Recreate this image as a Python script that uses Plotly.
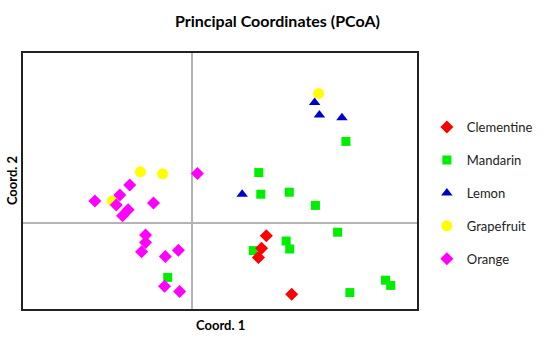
import plotly.graph_objects as go

# Data (PCoA coordinates)
clementine_x = [0.187, 0.175, 0.167, 0.251]
clementine_y = [-0.032, -0.063, -0.086, -0.178]

mandarin_x = [0.168, 0.173, 0.245, 0.154, 0.237, 0.246, 0.388, 0.311, 0.367, 0.488, 0.501, 0.398, -0.062]
mandarin_y = [0.126, 0.072, 0.077, -0.069, -0.045, -0.065, 0.204, 0.044, -0.023, -0.143, -0.156, -0.174, -0.136]

lemon_x = [0.126, 0.309, 0.321, 0.378]
lemon_y = [0.072, 0.301, 0.270, 0.263]

grapefruit_x = [-0.131, -0.075, -0.202, 0.319]
grapefruit_y = [0.128, 0.123, 0.055, 0.324]

orange_x = [-0.246, -0.158, -0.183, -0.192, -0.162, -0.176, -0.098, -0.118, -0.118, -0.128,
            -0.068, -0.035, -0.070, -0.032, 0.013]
orange_y = [0.055, 0.095, 0.070, 0.045, 0.033, 0.018, 0.050, -0.030, -0.049, -0.072,
            -0.084, -0.068, -0.158, -0.171, 0.124]

title_text = "Principal Coordinates (PCoA)"
x_title = "Coord. 1"
y_title = "Coord. 2"

fig = go.Figure()

series = [
    ("Mandarin", mandarin_x, mandarin_y, "square", "#00ee00", 9, 2),
    ("Lemon", lemon_x, lemon_y, "triangle-up", "#0000cc", 10, 3),
    ("Grapefruit", grapefruit_x, grapefruit_y, "circle", "#ffff00", 11, 4),
    ("Orange", orange_x, orange_y, "diamond", "#ff00ff", 10, 5),
    ("Clementine", clementine_x, clementine_y, "diamond", "#ff0000", 10, 1),
]
for name, xs, ys, sym, col, sz, rank in series:
    fig.add_trace(go.Scatter(
        x=xs, y=ys, mode="markers", name=name, legendrank=rank,
        legendgroup=name,
        marker=dict(symbol=sym, color=col, size=sz, line=dict(width=0)),
    ))

axis_common = dict(showgrid=False, showticklabels=False, ticks="",
                   zeroline=True, zerolinecolor="#b4b4b4", zerolinewidth=1.5,
                   showline=True, linecolor="#222222", linewidth=2, mirror=True)

fig.update_layout(
    width=550, height=339,
    paper_bgcolor="white", plot_bgcolor="white",
    margin=dict(l=23, r=129, t=53, b=30),
    font=dict(family="Lato, Open Sans, sans-serif", color="#111111"),
    xaxis=dict(range=[-0.4275, 0.5675], **axis_common),
    yaxis=dict(range=[-0.215, 0.425], **axis_common),
    showlegend=True,
    legend=dict(x=1.025, y=0.769, xanchor="left", yanchor="top",
                font=dict(size=13, color="#222222"),
                tracegroupgap=13, itemsizing="trace",
                bgcolor="rgba(0,0,0,0)"),
    annotations=[
        dict(text="<b>" + title_text + "</b>", xref="paper", yref="paper",
             x=(280 - 23) / 398, y=1 + (53 - 20) / 256,
             xanchor="center", yanchor="middle", showarrow=False,
             font=dict(size=16, color="#000000")),
        dict(text="<b>" + x_title + "</b>", xref="paper", yref="paper",
             x=(223 - 23) / 398, y=-(325 - 309) / 256,
             xanchor="center", yanchor="middle", showarrow=False,
             font=dict(size=13, color="#000000")),
        dict(text="<b>" + y_title + "</b>", xref="paper", yref="paper",
             x=-(23 - 12) / 398, y=(309 - 181) / 256, textangle=-90,
             xanchor="center", yanchor="middle", showarrow=False,
             font=dict(size=13, color="#000000")),
    ],
)

fig.write_html("out.html", config={"displayModeBar": False},
               post_script="document.body.style.margin='0';")
